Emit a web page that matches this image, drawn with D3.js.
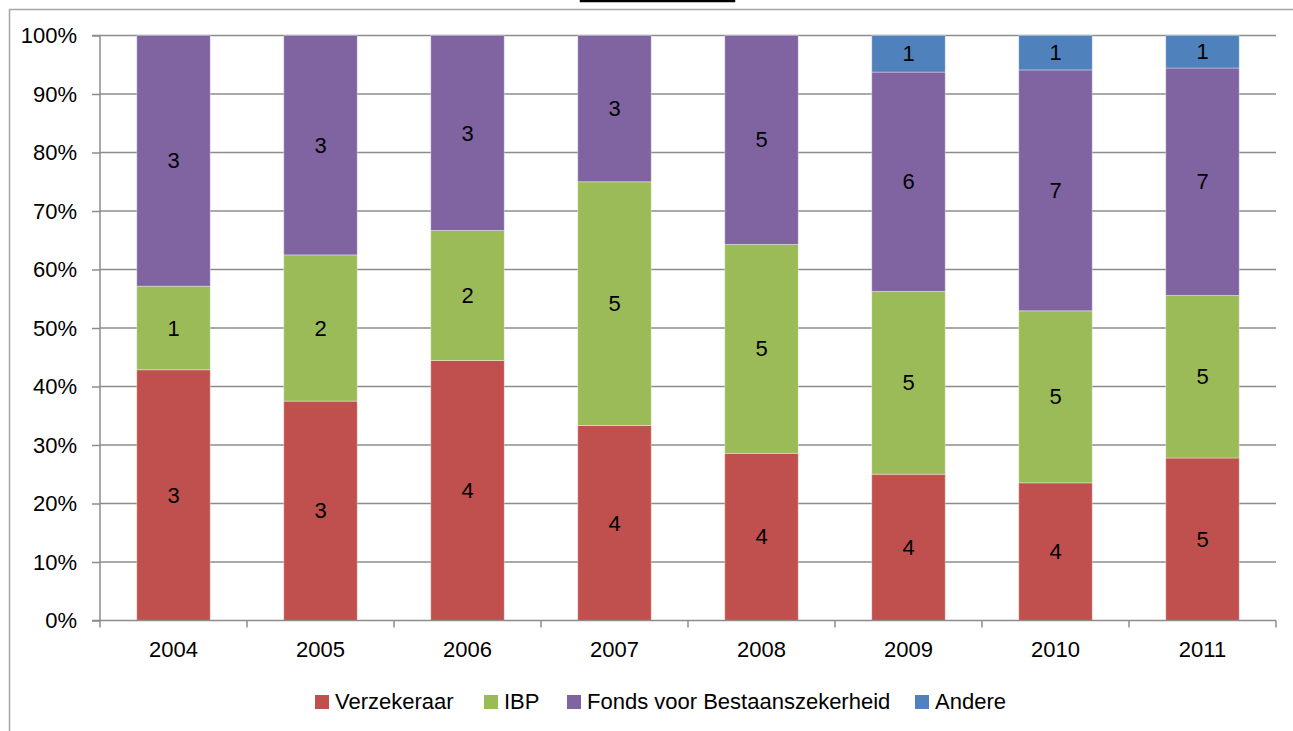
<!DOCTYPE html>
<html><head><meta charset="utf-8">
<script src="https://cdn.jsdelivr.net/npm/d3@7"></script>
<style>
body{margin:0;background:#fff;}
svg{display:block;font-family:"Liberation Sans",Arial,sans-serif;}
</style></head>
<body><svg id="c" width="1293" height="731"></svg>
<script>
const years = ["2004","2005","2006","2007","2008","2009","2010","2011"];
const seriesNames = ["Verzekeraar","IBP","Fonds voor Bestaanszekerheid","Andere"];
const verzekeraar = [3,3,4,4,4,4,4,5];
const ibp = [1,2,2,5,5,5,5,5];
const fonds = [3,3,3,3,5,6,7,7];
const andere = [0,0,0,0,0,1,1,1];
const colors = ["#C0504D","#9BBB59","#8064A2","#4F81BD"];
const yTicks = [0,0.1,0.2,0.3,0.4,0.5,0.6,0.7,0.8,0.9,1];

(function(){
const svg = d3.select("#c");
const W=1293,H=731;
const pL=100,pR=1276,pT=35.5,pB=620.5;
const FS=22;
const FF="'Liberation Sans',Arial,sans-serif";

// outer frame
svg.append("path").attr("d",`M9.5,${H} V9.5 H${W}`).attr("fill","none").attr("stroke","#a6a6a6").attr("stroke-width",1.5);
// title box bottom (cut off)
svg.append("rect").attr("x",581).attr("y",-30).attr("width",153).attr("height",31).attr("fill","none").attr("stroke","#000").attr("stroke-width",2.5);

const rows = years.map((yr,i)=>({year:yr,"Verzekeraar":verzekeraar[i],"IBP":ibp[i],"Fonds voor Bestaanszekerheid":fonds[i],"Andere":andere[i]}));
const stacked = d3.stack().keys(seriesNames).offset(d3.stackOffsetExpand)(rows);

const x = d3.scaleBand().domain(years).range([pL,pR]).paddingInner(0.5).paddingOuter(0.25);
const xb = d3.scaleBand().domain(years).range([pL,pR]);
const y = d3.scaleLinear().domain([0,1]).range([pB,pT]);

// gridlines
svg.append("g").selectAll("line").data(yTicks.slice(1)).join("line")
 .attr("x1",pL).attr("x2",pR).attr("y1",d=>y(d)).attr("y2",d=>y(d))
 .attr("stroke","#8c8c8c").attr("stroke-width",1.5);

// bars
const g = svg.append("g");
stacked.forEach((s,si)=>{
  g.append("g").selectAll("rect").data(s).join("rect")
   .attr("x",d=>x(d.data.year)).attr("width",x.bandwidth())
   .attr("y",d=>y(d[1])).attr("height",d=>Math.max(0,y(d[0])-y(d[1])))
   .attr("fill",colors[si]).attr("stroke","rgba(255,255,255,0.35)").attr("stroke-width",1);
});
// labels
stacked.forEach((s,si)=>{
  g.append("g").selectAll("text").data(s.filter(d=>d.data[s.key]>0)).join("text")
   .attr("x",d=>x(d.data.year)+x.bandwidth()/2).attr("y",d=>(y(d[0])+y(d[1]))/2)
   .attr("text-anchor","middle").attr("dominant-baseline","central")
   .attr("font-size",FS).attr("fill","#000").text(d=>d.data[s.key]);
});

// y axis
const ya = svg.append("g").attr("transform",`translate(${pL},0)`)
 .call(d3.axisLeft(y).tickValues(yTicks).tickFormat(d3.format(".0%")).tickSize(8).tickPadding(15));
ya.select(".domain").attr("stroke","#8c8c8c").attr("stroke-width",1.5).attr("d",`M-8,${pT}H0V${pB}H-8`);
ya.selectAll(".tick line").attr("stroke","#8c8c8c").attr("stroke-width",1.5);
ya.selectAll(".tick text").attr("font-size",FS).attr("fill","#000").attr("font-family",FF);

// x axis
const xa = svg.append("g").attr("transform",`translate(0,${pB})`)
 .call(d3.axisBottom(xb).tickSize(0).tickPadding(21));
xa.select(".domain").attr("stroke","#8c8c8c").attr("stroke-width",1.5).attr("d",`M${pL},0H${pR}`);
xa.selectAll(".tick text").attr("font-size",FS).attr("fill","#000").attr("font-family",FF);
svg.append("g").selectAll("line").data(years.concat(["end"])).join("line")
 .attr("x1",(d,i)=>pL+i*xb.bandwidth()).attr("x2",(d,i)=>pL+i*xb.bandwidth())
 .attr("y1",pB).attr("y2",pB+7).attr("stroke","#8c8c8c").attr("stroke-width",1.5);

// legend
const legendX = [315,484,567,915];
const lg = svg.append("g");
seriesNames.forEach((n,i)=>{
  lg.append("rect").attr("x",legendX[i]).attr("y",695).attr("width",14).attr("height",14).attr("fill",colors[i]);
  lg.append("text").attr("x",legendX[i]+20).attr("y",709).attr("font-size",FS).attr("fill","#000").text(n);
});
})();
</script></body></html>
